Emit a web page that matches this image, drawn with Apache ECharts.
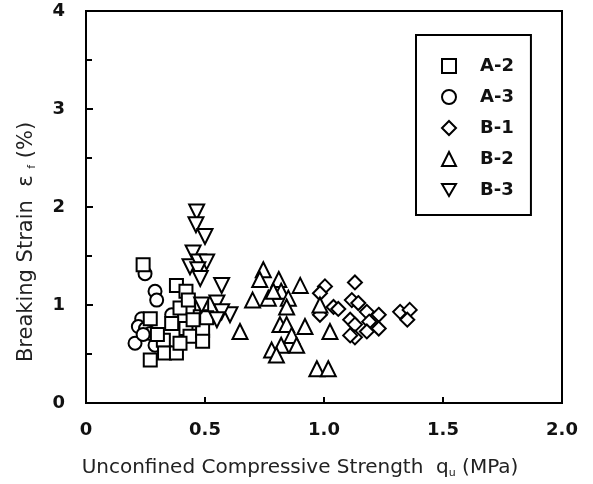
<!DOCTYPE html>
<html><head><meta charset="utf-8">
<script src="https://cdn.jsdelivr.net/npm/echarts@6/dist/echarts.min.js"></script>
<style>html,body{margin:0;padding:0;background:#fff}#c{width:593px;height:484px}</style>
</head><body><div id="c"></div>
<script>
var xTicks = [0, 0.5, 1.0, 1.5, 2.0];
var yTicks = [0, 1, 2, 3, 4];
var seriesNames = ['A-2', 'A-3', 'B-1', 'B-2', 'B-3'];
var dataA2 = [[0.24,1.41],[0.38,1.20],[0.42,1.14],[0.395,0.97],[0.486,1.00],[0.27,0.86],[0.325,0.64],[0.27,0.44],[0.33,0.51],[0.38,0.51],[0.42,0.76],[0.437,0.68],[0.49,0.74],[0.49,0.63],[0.48,0.88],[0.36,0.81],[0.45,0.85],[0.395,0.61],[0.507,0.87],[0.30,0.70],[0.43,1.05]];
var dataA3 = [[0.248,1.32],[0.29,1.14],[0.297,1.05],[0.234,0.86],[0.22,0.78],[0.25,0.76],[0.206,0.61],[0.27,0.71],[0.297,0.68],[0.36,0.90],[0.29,0.59],[0.24,0.70]];
var dataB1 = [[1.004,1.19],[0.983,1.12],[1.04,0.98],[0.983,0.90],[1.13,1.23],[1.117,1.05],[1.144,1.02],[1.18,0.93],[1.23,0.90],[1.19,0.83],[1.11,0.85],[1.13,0.80],[1.23,0.76],[1.18,0.73],[1.13,0.67],[1.11,0.69],[1.32,0.93],[1.36,0.95],[1.35,0.85],[1.06,0.96]];
var dataB2 = [[0.745,1.36],[0.73,1.26],[0.81,1.26],[0.90,1.20],[0.70,1.05],[0.766,1.07],[0.82,1.14],[0.787,1.14],[0.85,1.07],[0.843,0.98],[0.815,0.80],[0.843,0.80],[0.92,0.78],[0.864,0.69],[0.82,0.59],[0.885,0.59],[0.78,0.54],[0.80,0.49],[0.97,0.35],[1.018,0.35],[0.983,1.00],[1.025,0.73],[0.647,0.73]];
var dataB3 = [[0.465,1.95],[0.462,1.82],[0.50,1.70],[0.45,1.53],[0.437,1.39],[0.472,1.44],[0.507,1.44],[0.47,1.36],[0.48,1.27],[0.57,1.20],[0.55,1.02],[0.605,0.90],[0.57,0.93],[0.486,1.00],[0.55,0.85]];

var font = 'DejaVu Sans, Liberation Sans, sans-serif';
var nameFont = 'DejaVu Sans, Liberation Sans, sans-serif';
var invTri = 'path://M0,0 L20,0 L10,17.3 Z';
function mk(name, data, symbol, size) {
  return {
    name: name, type: 'scatter', data: data, symbol: symbol, symbolSize: size,
    itemStyle: { color: '#fff', borderColor: '#000', borderWidth: 2, opacity: 1 },
    emphasis: { disabled: true }
  };
}
var chart = echarts.init(document.getElementById('c'), null, { renderer: 'canvas' });
chart.setOption({
  animation: false,
  backgroundColor: '#fff',
  grid: { left: 86, top: 11, right: 31, bottom: 81, show: true, borderColor: '#000', borderWidth: 2, backgroundColor: 'transparent' },
  legend: {
    orient: 'vertical', left: 416, top: 35,
    data: seriesNames.map(function (n) { return { name: n }; }),
    padding: [22, 17, 16, 25],
    itemWidth: 14, itemHeight: 14, itemGap: 13,
    borderColor: '#000', borderWidth: 2,
    textStyle: { fontFamily: font, fontSize: 18, fontWeight: 'bold', color: '#111', padding: [0, 0, 0, 19] },
    selectedMode: false
  },
  xAxis: {
    type: 'value', min: 0, max: 2, interval: 0.5,
    axisLine: { lineStyle: { color: '#000', width: 2 } },
    axisTick: { inside: true, length: 6, lineStyle: { color: '#000', width: 2 } },
    axisLabel: { margin: 18, fontFamily: font, fontSize: 18, fontWeight: 'bold', color: '#111',
      formatter: function (v) { return v === 0 ? '0' : v.toFixed(1); } },
    splitLine: { show: false }
  },
  yAxis: {
    type: 'value', min: 0, max: 4, interval: 1,
    axisLine: { lineStyle: { color: '#000', width: 2 } },
    axisTick: { inside: true, length: 7, lineStyle: { color: '#000', width: 2 } },
    minorTick: { show: true, splitNumber: 2, length: 6, lineStyle: { color: '#000', width: 2 } },
    axisLabel: { margin: 21, fontFamily: font, fontSize: 18, fontWeight: 'bold', color: '#111' },
    splitLine: { show: false }
  },
  graphic: [
    { type: 'text', x: 300, y: 468, style: {
        text: 'Unconfined Compressive Strength  q{s|u} (MPa)',
        rich: { s: { fontSize: 11, padding: [10, 0, 0, 0], fontFamily: nameFont, fill: '#222' } },
        font: '20px ' + nameFont, fill: '#222', align: 'center', verticalAlign: 'middle' } },
    { type: 'text', x: 27, y: 242, rotation: Math.PI / 2, style: {
        text: 'Breaking Strain  ε {s|f} (%)',
        rich: { s: { fontSize: 11, padding: [10, 0, 0, 0], fontFamily: nameFont, fill: '#222' } },
        font: '21px ' + nameFont, fill: '#222', align: 'center', verticalAlign: 'middle' } }
  ],
  series: [
    mk('A-3', dataA3, 'circle', 13),
    mk('A-2', dataA2, 'rect', 13),
    mk('B-1', dataB1, 'diamond', 14),
    mk('B-2', dataB2, 'triangle', 15),
    mk('B-3', dataB3, invTri, 15)
  ]
});
</script></body></html>
